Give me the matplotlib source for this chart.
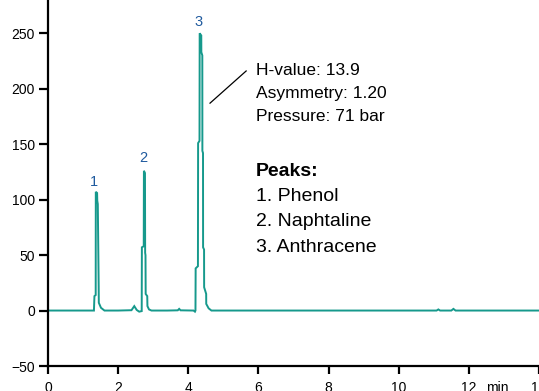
import matplotlib
matplotlib.use("Agg")
import matplotlib.pyplot as plt

plt.rcParams['font.family'] = ['Liberation Sans', 'DejaVu Sans']

# chromatogram trace (time in min, signal)
time = [0.0, 0.5, 1.0, 1.31, 1.324, 1.36, 1.363, 1.40, 1.405, 1.42, 1.445, 1.449, 1.51, 1.61,
        2.0, 2.38, 2.46, 2.53, 2.60, 2.672, 2.677, 2.73, 2.735, 2.765, 2.77, 2.78, 2.785,
        2.83, 2.835, 2.88, 2.95, 3.4, 3.70, 3.74, 3.78, 4.15, 4.19, 4.205, 4.21, 4.275,
        4.28, 4.32, 4.325, 4.37, 4.372, 4.40, 4.402, 4.42, 4.422, 4.45, 4.452, 4.51,
        4.512, 4.58, 4.66, 5.5, 7.0, 9.0, 11.08, 11.13, 11.18, 11.5, 11.56, 11.62,
        12.5, 13.5, 14.1]
signal = [0, 0, 0, 0, 13, 14, 107, 106, 99, 96, 22, 7, 2.5, 0,
          0, 0.3, 4, 0.5, -1, -0.5, 57, 58, 126, 124, 52, 50, 15,
          13, 4, 1, 0, 0, 0.2, 1.5, 0.2, 0, -1, 0, 38, 40,
          151, 153, 250, 248, 233, 230, 144, 142, 57, 55, 21, 15,
          6, 2, 0, 0, 0, 0, 0, 1, 0, 0, 1.5, 0,
          0, 0, 0]

peak_ids = ['1', '2', '3']
peak_times = [1.30, 2.72, 4.30]
peak_label_y = [112, 134, 257]

info_lines = ['H-value: 13.9', 'Asymmetry: 1.20', 'Pressure: 71 bar']
peak_names = ['1. Phenol', '2. Naphtaline', '3. Anthracene']

trace_color = '#16998c'
label_color = '#1f5a9e'

fig = plt.figure(figsize=(5.39, 3.91), dpi=100)
ax = fig.add_axes([48 / 539, 25 / 391, 1 - 48 / 539, 366 / 391])
ax.plot(time, signal, color=trace_color, lw=1.4, solid_joinstyle='miter')

ax.set_xlim(0, 13.98)
ax.set_ylim(-50, 280)
ax.set_xticks(range(0, 15, 2))
ax.set_yticks(range(-50, 251, 50))
ax.spines['top'].set_visible(False)
ax.spines['right'].set_visible(False)
ax.spines['left'].set_linewidth(1.6)
ax.spines['bottom'].set_linewidth(1.6)
ax.tick_params(axis='y', length=6.5, width=1.6, pad=3, labelsize=10)
ax.tick_params(axis='x', length=5.5, width=1.6, pad=5, labelsize=10)

ax.annotate('min', xy=(12.82, 0), xycoords=('data', 'axes fraction'),
            xytext=(0, -10.5), textcoords='offset points',
            ha='center', va='top', fontsize=10)

for pid, pt, py in zip(peak_ids, peak_times, peak_label_y):
    ax.text(pt, py, pid, color=label_color, fontsize=10.5, ha='center', va='baseline')

ax.plot([4.62, 5.65], [187, 216], color='black', lw=0.9)
for i, line in enumerate(info_lines):
    ax.text(5.92, 212 - 20.5 * i, line, fontsize=12.5, va='baseline')

ax.text(5.92, 121, 'Peaks:', fontsize=14, fontweight='bold', va='baseline')
for i, line in enumerate(peak_names):
    ax.text(5.92, 99 - 23 * i, line, fontsize=14, va='baseline')

fig.savefig('out.png', dpi=100)
